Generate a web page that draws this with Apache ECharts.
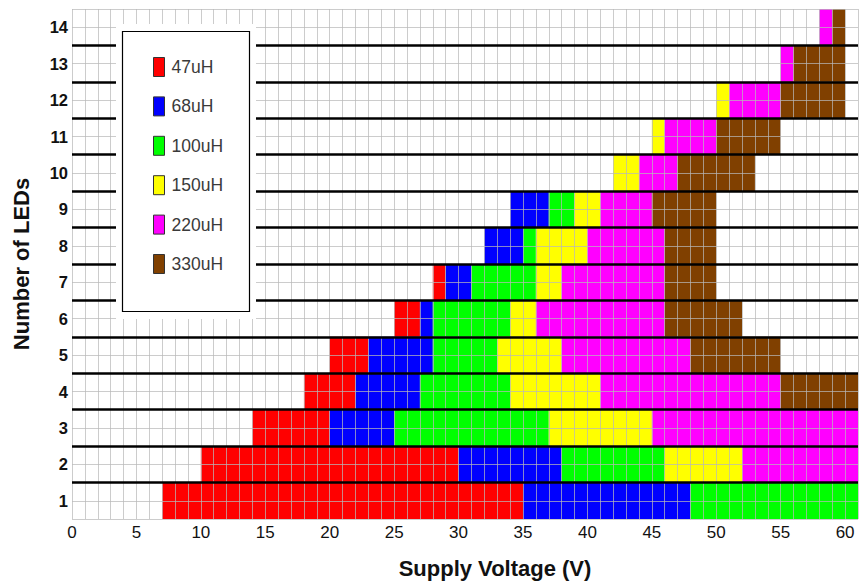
<!DOCTYPE html>
<html>
<head>
<meta charset="utf-8">
<script src="https://cdn.jsdelivr.net/npm/echarts@6/dist/echarts.min.js"></script>
<style>
html,body{margin:0;padding:0;background:#fff;}
#chart{width:861px;height:584px;}
</style>
</head>
<body>
<div id="chart"></div>
<script>
// Each entry: [number of LEDs, start voltage, end voltage]
const inductors = ['47uH', '68uH', '100uH', '150uH', '220uH', '330uH'];
const colors = ['#ff0000', '#0000ff', '#00ff00', '#ffff00', '#ff00ff', '#804000'];
const l47 = [[1,7,35],[2,10,30],[3,14,20],[4,18,22],[5,20,23],[6,25,27],[7,28,29]];
const l68 = [[1,35,48],[2,30,38],[3,20,25],[4,22,27],[5,23,28],[6,27,28],[7,29,31],[8,32,35],[9,34,37]];
const l100 = [[1,48,61],[2,38,46],[3,25,37],[4,27,34],[5,28,33],[6,28,34],[7,31,36],[8,35,36],[9,37,39]];
const l150 = [[2,46,52],[3,37,45],[4,34,41],[5,33,38],[6,34,36],[7,36,38],[8,36,40],[9,39,41],[10,42,44],[11,45,46],[12,50,51]];
const l220 = [[2,52,61],[3,45,61],[4,41,55],[5,38,48],[6,36,46],[7,38,46],[8,40,46],[9,41,45],[10,44,47],[11,46,50],[12,51,55],[13,55,56],[14,58,59]];
const l330 = [[4,55,61],[5,48,55],[6,46,52],[7,46,50],[8,46,50],[9,45,50],[10,47,53],[11,50,55],[12,55,60],[13,56,60],[14,59,60]];
const seriesData = [l47, l68, l100, l150, l220, l330];
const rowDividers = [1.5,2.5,3.5,4.5,5.5,6.5,7.5,8.5,9.5,10.5,11.5,12.5,13.5];
const xTitle = 'Supply Voltage (V)';
const yTitle = 'Number of LEDs';

const FONT = 'Arial, "Liberation Sans", sans-serif';
const chart = echarts.init(document.getElementById('chart'), null, {renderer: 'svg'});

function renderItem(params, api) {
  const row = api.value(0), s = api.value(1), e = api.value(2);
  const p0 = api.coord([s, row + 0.5]);
  const p1 = api.coord([e, row - 0.5]);
  return {
    type: 'rect',
    shape: {x: p0[0], y: p0[1], width: p1[0] - p0[0], height: p1[1] - p0[1]},
    style: {fill: api.visual('color')}
  };
}

const series = inductors.map((name, i) => ({
  name: name,
  type: 'custom',
  renderItem: renderItem,
  itemStyle: {color: colors[i]},
  encode: {x: [1, 2], y: 0},
  data: seriesData[i],
  z: 2,
  silent: true
}));

series.push({
  name: 'dividers',
  type: 'line',
  data: [],
  z: 4,
  silent: true,
  markLine: {
    silent: true,
    symbol: ['none', 'none'],
    label: {show: false},
    lineStyle: {color: '#000', width: 2.5, type: 'solid'},
    emphasis: {disabled: true},
    animation: false,
    data: rowDividers.map(v => ({yAxis: v}))
  }
});

chart.setOption({
  animation: false,
  backgroundColor: '#fff',
  grid: {left: 72, right: 0, top: 9, bottom: 64},
  xAxis: {
    type: 'value', min: 0, max: 61, interval: 1, z: 3,
    name: xTitle, nameLocation: 'middle', nameGap: 38,
    nameTextStyle: {fontFamily: FONT, fontSize: 22, fontWeight: 'bold', color: '#111', padding: [0, 0, 0, 60]},
    axisLine: {show: false}, axisTick: {show: false},
    axisLabel: {
      fontFamily: FONT, fontSize: 17, color: '#111', margin: 5,
      formatter: v => (v % 5 === 0 && v <= 60) ? String(v) : ''
    },
    splitLine: {show: true, lineStyle: {color: 'rgba(185,185,185,0.72)', width: 1}}
  },
  yAxis: {
    type: 'value', min: 0.5, max: 14.5, interval: 0.5, z: 3,
    name: yTitle, nameLocation: 'middle', nameGap: 40, nameRotate: 90,
    nameTextStyle: {fontFamily: FONT, fontSize: 22, fontWeight: 'bold', color: '#111'},
    axisLine: {show: false}, axisTick: {show: false},
    axisLabel: {
      fontFamily: FONT, fontSize: 16.5, fontWeight: 'bold', color: '#111', margin: 4,
      formatter: v => Number.isInteger(v) ? String(v) : ''
    },
    splitLine: {show: true, lineStyle: {color: 'rgba(185,185,185,0.72)', width: 1}}
  },
  graphic: {
    elements: [
      {type: 'rect', z: 50, silent: true, shape: {x: 116, y: 24, width: 140, height: 295}, style: {fill: '#fff'}},
      {type: 'rect', z: 51, silent: true, shape: {x: 122.5, y: 31.5, width: 127, height: 280}, style: {fill: '#fff', stroke: '#000', lineWidth: 1.2}}
    ]
  },
  legend: {
    data: inductors,
    orient: 'vertical',
    left: 153, top: 57,
    z: 100,
    padding: 0,
    itemWidth: 11, itemHeight: 19, itemGap: 19.4,
    icon: 'rect',
    selectedMode: false,
    itemStyle: {borderColor: '#333', borderWidth: 1},
    textStyle: {fontFamily: FONT, fontSize: 17.5, lineHeight: 19, color: '#3a3a3a', padding: [0, 0, 0, 2]}
  },
  series: series
});
</script>
</body>
</html>
